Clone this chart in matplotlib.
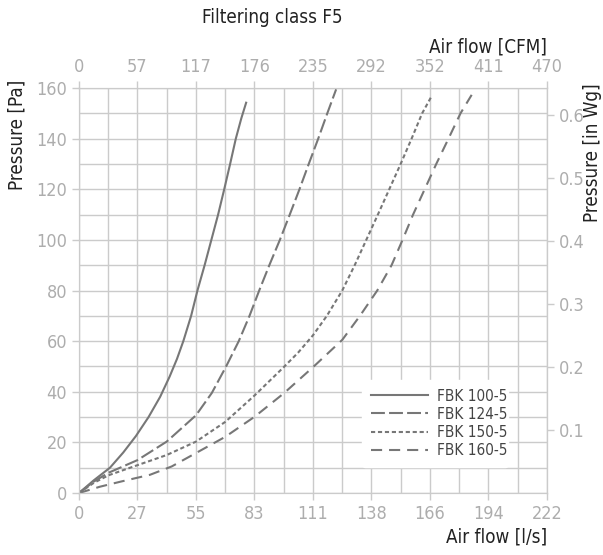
import matplotlib.pyplot as plt
import numpy as np

plt.rcParams['font.family'] = ['DejaVu Sans']
plt.rcParams['font.stretch'] = 'condensed'
plt.rcParams['lines.scale_dashes'] = False

# tick labels
ls_ticks = [0, 27.75, 55.5, 83.25, 111, 138.75, 166.5, 194.25, 222]
ls_labels = ['0', '27', '55', '83', '111', '138', '166', '194', '222']
cfm_labels = ['0', '57', '117', '176', '235', '292', '352', '411', '470']
pa_ticks = [0, 20, 40, 60, 80, 100, 120, 140, 160]
inwg_ticks = [0.1, 0.2, 0.3, 0.4, 0.5, 0.6]

# series: air flow [l/s] vs pressure [Pa]
fbk100_x = [0, 7, 14.7, 21, 27, 33, 38.5, 43, 46.5, 49.5, 53.2, 56.2, 59.6, 62.8, 66, 68.9, 71.7, 74.4, 77, 79.3]
fbk100_y = [0, 5, 10, 16, 22.5, 30, 38, 46, 53, 60, 70, 80, 90, 100, 110, 120, 130, 140, 148, 154.2]

fbk124_x = [0, 7, 14, 27.75, 41.6, 55.5, 63, 69.8, 75.8, 80.9, 85.5, 90.3, 95.3, 100, 104.6, 109, 113.5, 117.8, 122]
fbk124_y = [0, 4.5, 8, 13, 20.3, 30.7, 39.5, 50, 60, 70, 80, 90, 100, 110, 120, 130, 140, 150, 159.5]

fbk150_x = [0, 7, 14, 27.75, 41.6, 55.5, 69.4, 83.25, 97.1, 104, 111, 117.6, 124.9, 130.8, 136.3,
            141.8, 147.2, 152.6, 157.8, 162.8, 166.9]
fbk150_y = [0, 4, 7, 11, 15, 20.3, 28.1, 38.5, 49.7, 55.5, 62.3, 70, 80, 90, 100,
            110, 120, 130, 140, 150, 156.2]

fbk160_x = [0, 10, 20.3, 33.7, 44, 55.3, 69.4, 83.25, 97.2, 111, 124.9, 133.3, 141.5, 148.3, 153.5,
            158.5, 164, 169.5, 175.3, 181, 186.3]
fbk160_y = [0, 2.5, 4.6, 7.2, 10.5, 15.7, 22.2, 30.1, 39.4, 49.7, 60.5, 70, 80, 90, 100,
            110, 120, 130, 140, 150, 157.3]

PA_PER_INWG = 249.09

grid_c = '#cbcbcb'
tick_c = '#adadad'
line_c = '#777777'
text_c = '#222222'

fig = plt.figure(figsize=(6.03, 5.55), dpi=100)
ax = fig.add_axes([0.131, 0.1117, 0.776, 0.7297])

ax.plot(fbk100_x, fbk100_y, color=line_c, lw=1.5, label='FBK 100-5')
ax.plot(fbk124_x, fbk124_y, color=line_c, lw=1.5, dashes=(10, 3), label='FBK 124-5')
ax.plot(fbk150_x, fbk150_y, color=line_c, lw=1.5, dashes=(3, 2), label='FBK 150-5')
ax.plot(fbk160_x, fbk160_y, color=line_c, lw=1.5, dashes=(8, 5), label='FBK 160-5')

ax.set_xlim(0, 222)
ax.set_ylim(0, 160)
ax.set_xticks(ls_ticks)
ax.set_xticklabels(ls_labels)
ax.set_xticks(np.arange(0, 222.1, 13.875), minor=True)
ax.set_yticks(pa_ticks)
ax.set_yticks(np.arange(0, 161, 10), minor=True)
ax.grid(True, which='both', color=grid_c, lw=1)
ax.set_axisbelow(True)
ax.tick_params(which='major', colors=grid_c, labelsize=13, length=5, width=1, labelcolor=tick_c)
ax.tick_params(which='minor', length=0)
ax.tick_params(axis='y', right=False)
for s in ax.spines.values():
    s.set_color(grid_c)

# top axis: CFM
ax_top = ax.twiny()
ax_top.set_xlim(0, 222)
ax_top.set_xticks(ls_ticks)
ax_top.set_xticklabels(cfm_labels)
ax_top.tick_params(colors=grid_c, labelsize=13, length=5, width=1, labelcolor=tick_c)
for s in ax_top.spines.values():
    s.set_color(grid_c)

# right axis: in Wg
ax_r = ax.secondary_yaxis('right', functions=(lambda p: p / PA_PER_INWG, lambda w: w * PA_PER_INWG))
ax_r.set_yticks(inwg_ticks)
ax_r.set_yticklabels([f'{v:.1f}' for v in inwg_ticks])
ax_r.tick_params(colors=grid_c, labelsize=13, length=5, width=1, labelcolor=tick_c)
ax_r.spines['right'].set_color(grid_c)

fig.text(0.451, 0.968, 'Filtering class F5', ha='center', va='center', fontsize=13.5, color=text_c)
fig.text(0.907, 0.915, 'Air flow [CFM]', ha='right', va='center', fontsize=13.5, color=text_c)
fig.text(0.907, 0.032, 'Air flow [l/s]', ha='right', va='center', fontsize=13.5, color=text_c)
fig.text(0.028, 0.857, 'Pressure [Pa]', ha='center', va='top', rotation=90, fontsize=13.5, color=text_c)
fig.text(0.982, 0.850, 'Pressure [in Wg]', ha='center', va='top', rotation=90, fontsize=13.5, color=text_c)

leg = ax.legend(loc='lower left', bbox_to_anchor=(0.605, 0.064, 0.312, 0.245), mode='expand',
                frameon=True, fontsize=11, handlelength=3.7, labelspacing=0.2,
                borderpad=0.6, borderaxespad=0, handletextpad=0.6)
leg.get_frame().set_facecolor('white')
leg.get_frame().set_edgecolor('white')
leg.get_frame().set_alpha(1)
for t in leg.get_texts():
    t.set_color('#444444')

fig.savefig('out.png', dpi=100)
